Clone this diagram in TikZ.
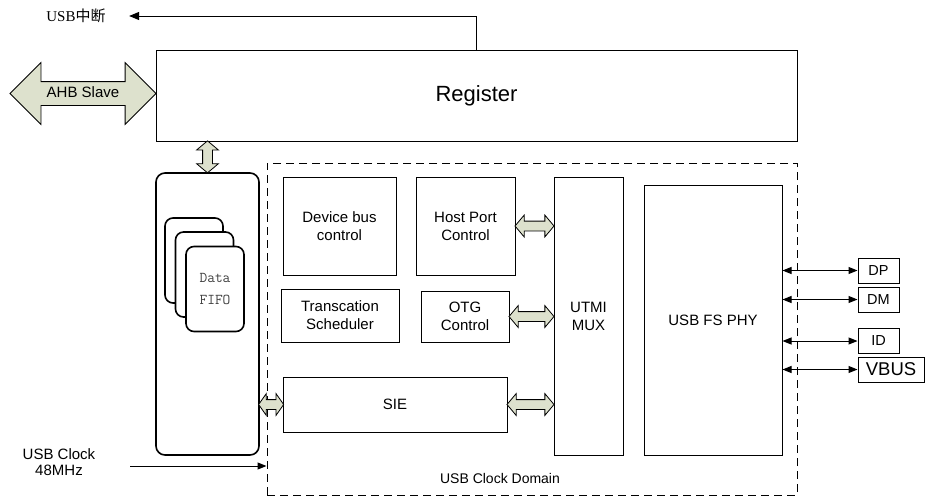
\documentclass[tikz,border=0pt]{standalone}
\usepackage{fontspec}
\setmainfont{Liberation Sans}
\newfontfamily\cjk{Noto Sans CJK SC}
\newfontfamily\serifrm{Liberation Serif}
\usetikzlibrary{arrows.meta,shapes.arrows,calc,positioning}
\definecolor{busfill}{RGB}{221,225,205}

\begin{document}
\begin{tikzpicture}[x=1pt,y=-1pt]
   \tikzstyle{blk}=[draw,line width=1pt,inner sep=0pt,align=center,font=\fontsize{15}{18}\selectfont]
   \tikzstyle{pinbox}=[draw,line width=1pt,inner sep=0pt,minimum width=41,minimum height=25,font=\fontsize{14.5}{17}\selectfont]
   \tikzstyle{fifobox}=[draw,line width=1.6pt,rounded corners=9pt,fill=white,inner sep=0pt]
   \tikzstyle{card}=[fifobox,rounded corners=8pt,minimum width=58,minimum height=85]
   \tikzstyle{fat}=[double arrow,draw,line width=0.8pt,fill=busfill,inner sep=4.5pt,double arrow head extend=6pt,double arrow tip angle=100]
   \tikzstyle{ar}=[line width=1pt,-{Triangle[length=10pt,width=8pt]}]
   \tikzstyle{pin}=[line width=1pt,{Triangle[length=9pt,width=7pt]}-{Triangle[length=9pt,width=7pt]}]
   \tikzstyle{lbl}=[align=center,font=\fontsize{15}{16}\selectfont]

   \useasboundingbox (0,0) rectangle (925,501);

   % bus side
   \node (reg) [blk,minimum width=641,minimum height=91,font=\fontsize{22}{26}\selectfont] at (476.5,95.5) {Register};
   \node (ahb) [double arrow,draw,line width=0.8pt,fill=busfill,inner xsep=0pt,inner ysep=5pt,
      text height=10pt,text depth=3pt,double arrow head extend=19pt,minimum height=146,
      font=\fontsize{15}{16}\selectfont] at (83,93.5) {AHB Slave};
   \node (irq) [lbl] at (76,16) {\serifrm USB\cjk 中断};
   \draw [ar] (reg.north) |- ([xshift=20pt]irq.east);

   % fifo
   \node (fifo) [fifobox,minimum width=103,minimum height=282] at (207.5,314) {};
   \node (c1) [card] at (194,260.5) {};
   \node (c2) [card] at (204.5,274.5) {};
   \node (c3) [card,align=center,font=\ttfamily\fontsize{15}{21}\selectfont,text=black!75] at (215,289) {Data\\FIFO};
   \node [fat,rotate=90,minimum height=32] at ($(fifo.north |- reg.south)!.5!(fifo.north)$) {};

   % clock domain
   \node (dom) [draw,line width=1pt,dash pattern=on 8pt off 5pt,minimum width=530,minimum height=332] at (532,329) {};
   \node (domtxt) [font=\fontsize{14}{16}\selectfont] at (500,478) {USB Clock Domain};
   \node (dev) [blk,minimum width=113,minimum height=98] at (339.5,226) {Device bus\\control};
   \node (host) [blk,minimum width=99,minimum height=98] at (465.5,226) {Host Port\\Control};
   \node (sched) [blk,minimum width=118,minimum height=53] at (340,315.5) {Transcation\\Scheduler};
   \node (otg) [blk,minimum width=88,minimum height=51] at (465,316.5) {OTG\\Control};
   \node (sie) [blk,minimum width=224,minimum height=55] at (395,404.5) {SIE};
   \node (utmi) [blk,minimum width=69,minimum height=278] at (588.5,316) {UTMI\\MUX};
   \node (phy) [blk,minimum width=138,minimum height=270] at (713,320) {USB FS PHY};

   \node [fat,minimum height=39] at ($(host.east)!.5!(utmi.west |- host.east)$) {};
   \node [fat,minimum height=45] at ($(otg.east)!.5!(utmi.west |- otg.east)$) {};
   \node [fat,minimum height=47] at ($(sie.east)!.5!(utmi.west |- sie.east)$) {};
   \node [fat,double arrow tip angle=110,minimum height=25] at ($(fifo.east |- sie.west)!.5!(sie.west)$) {};

   % usb pins
   \node (dp) [pinbox] at (878.5,270.5) {DP};
   \node (dm) [pinbox] at (878.5,299.5) {DM};
   \node (id) [pinbox] at (878.5,341) {ID};
   \node (vbus) [pinbox,minimum width=66,font=\fontsize{18.5}{20}\selectfont] at (891,369.5) {VBUS};
   \draw [pin] (phy.east |- dp.west) -- (dp.west);
   \draw [pin] (phy.east |- dm.west) -- (dm.west);
   \draw [pin] (phy.east |- id.west) -- (id.west);
   \draw [pin] (phy.east |- vbus.west) -- (vbus.west);

   % clock input
   \node (clk) [lbl] at (59,462) {USB Clock\\48MHz};
   \coordinate (clkin) at (130,466);
   \draw [line width=1pt,-{Triangle[length=9pt,width=7pt]}] (clkin) -- (clkin -| dom.west);
\end{tikzpicture}
\end{document}
